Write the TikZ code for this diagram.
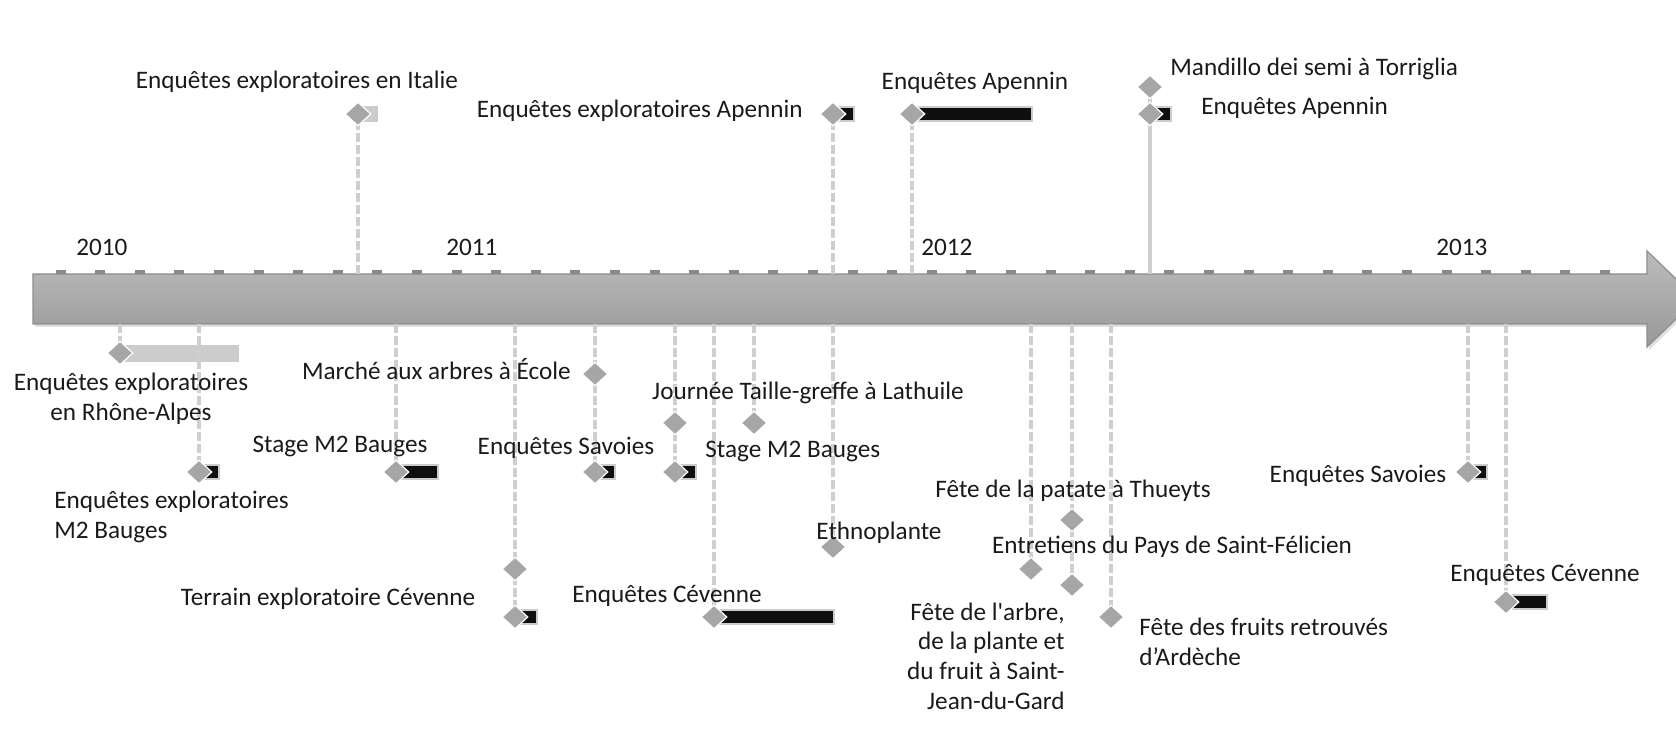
\documentclass[tikz,border=0pt]{standalone}
\usepackage{fontspec}
\setmainfont{Carlito}[Ligatures=TeXOff]
\usepackage{tikz}
\usetikzlibrary{shapes.geometric}
\definecolor{axtop}{HTML}{BCBCBC}
\definecolor{axbot}{HTML}{989898}
\definecolor{axedge}{HTML}{8E8E8E}
\definecolor{tickc}{HTML}{8A8A8A}
\definecolor{stemc}{HTML}{CFCFCF}
\definecolor{dmc}{HTML}{A6A6A6}
\definecolor{lbarc}{HTML}{CCCCCC}
\definecolor{txtc}{HTML}{1A1A1A}
\tikzset{
  stem/.style={draw=stemc,line width=2pt,dash pattern=on 4.5pt off 1.5pt},
  stemfull/.style={draw=stemc,line width=2pt},
  mk/.style={diamond,fill=dmc,draw=white,line width=0.6pt,minimum width=13pt,minimum height=12pt,inner sep=0pt},
  lbar/.style={fill=lbarc},
  bkbar/.style={fill=black!94,draw=lbarc,line width=1pt},
  lbl/.style={font=\fontsize{12.6}{14.8}\selectfont,text=txtc,inner sep=0pt}
}

\begin{document}
\begin{tikzpicture}[x=0.5pt,y=-0.5pt]
\useasboundingbox (0,0) rectangle (1676,731);
\fill[black,opacity=0.12] (35,277) -- (1649,277) -- (1649,254) -- (1699,302) -- (1649,350) -- (1649,327) -- (35,327) -- cycle;
\draw[axedge,line width=0.6pt,top color=axtop,bottom color=axbot] (33,274) -- (1647,274) -- (1647,251) -- (1697,299) -- (1647,347) -- (1647,324) -- (33,324) -- cycle;
\foreach \k in {0,...,39}
  \fill[tickc] ({55.5+39.6*\k},270) rectangle ++(10,4);
\foreach \yr/\x in {2010/76,2011/446,2012/921,2013/1436}
  \node[lbl,anchor=west] (y\yr) at (\x,247) {\yr};

\foreach \n/\x/\y in {ita/358/114,apx/833/114,apa/912/114,man/1150/87,apb/1150/114}{
  \coordinate (\n) at (\x,\y); \coordinate (\n-a) at (\x,274);}
\foreach \n/\x/\y in {rha/120/353,emb/199/472,sta/396/472,mar/595/374,sav/595/472,tce/515/569,tcf/515/617,
  jtga/675/423,jtgb/754/423,stb/675/472,cev/714/617,eth/833/547,ptt/1072/520,ent/1031/569,arb/1072/585,
  frt/1111/617,svr/1468/472,cvr/1506/602}{
  \coordinate (\n) at (\x,\y); \coordinate (\n-a) at (\x,324);}

\fill[lbar] (ita) ++(0,-8) rectangle ++(20,16);
\fill[lbar] (rha) ++(0,-8) rectangle ++(119,17);
\foreach \n/\w in {apx/21,apa/120,apb/21,emb/20,sta/42,sav/20,tcf/22,stb/21,cev/120,svr/19,cvr/41}
  \draw[bkbar] (\n) ++(0,-7) rectangle ++(\w,14);

\foreach \n in {ita,apx,apa,rha,emb,sta,mar,sav,tcf,jtgb,stb,cev,eth,ent,arb,frt,svr,cvr}
  \draw[stem] (\n-a) -- (\n);
\draw[stemfull] (man-a) -- (man);

\foreach \n in {ita,apx,apa,man,apb,rha,emb,sta,mar,sav,tce,tcf,jtga,jtgb,stb,cev,eth,ptt,ent,arb,frt,svr,cvr}
  \node[mk] (\n-m) at (\n) {};

\node[lbl] (ita-l) at (297,82) {Enquêtes exploratoires en Italie};
\node[lbl,anchor=east] (apx-l) at (803,111) {Enquêtes exploratoires Apennin};
\node[lbl] (apa-l) at (975,83) {Enquêtes Apennin};
\node[lbl,anchor=west] (man-l) at (1170,69) {Mandillo dei semi à Torriglia};
\node[lbl,anchor=west] (apb-l) at (1201,108) {Enquêtes Apennin};

\node[lbl,align=center] (rha-l) at (131,399) {Enquêtes exploratoires\\en Rhône-Alpes};
\node[lbl,align=left,anchor=west] (emb-l) at (54,517) {Enquêtes exploratoires\\M2 Bauges};
\node[lbl] (sta-l) at (340,446) {Stage M2 Bauges};
\node[lbl,anchor=east] (mar-l) at (571,369) {Marché aux arbres à École};
\node[lbl] (sav-l) at (566,448) {Enquêtes Savoies};
\node[lbl] (tce-l) at (328,599) {Terrain exploratoire Cévenne};
\node[lbl] (jtg-l) at (808,393) {Journée Taille-greffe à Lathuile};
\node[lbl,anchor=west] (stb-l) at (705,451) {Stage M2 Bauges};
\node[lbl] (cev-l) at (667,596) {Enquêtes Cévenne};
\node[lbl] (eth-l) at (879,533) {Ethnoplante};
\node[lbl] (ptt-l) at (1073,491) {Fête de la patate à Thueyts};
\node[lbl] (ent-l) at (1172,547) {Entretiens du Pays de Saint-Félicien};
\node[lbl,align=right,anchor=east] (arb-l) at (1065,656) {Fête de l'arbre,\\de la plante et\\du fruit à Saint-\\Jean-du-Gard};
\node[lbl,align=left,anchor=west] (frt-l) at (1139,642) {Fête des fruits retrouvés\\d’Ardèche};
\node[lbl] (svr-l) at (1358,476) {Enquêtes Savoies};
\node[lbl] (cvr-l) at (1545,575) {Enquêtes Cévenne};
\end{tikzpicture}
\end{document}
